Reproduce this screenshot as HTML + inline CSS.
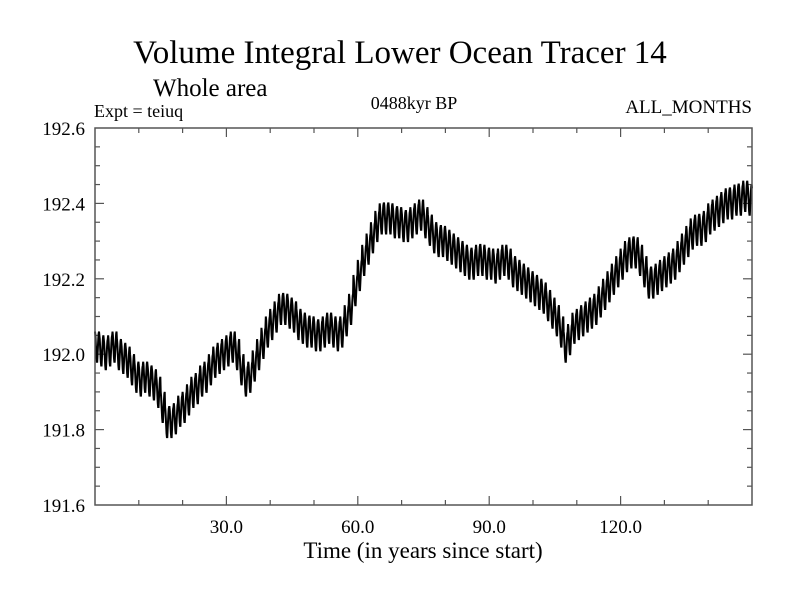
<!DOCTYPE html>
<html><head><meta charset="utf-8"><style>
body{margin:0;background:#fff}
svg{display:block}
text{font-family:"Liberation Serif",serif;fill:#000}
</style></head><body>
<svg id="chart" width="800" height="600">
<text x="400" y="63" font-size="33" text-anchor="middle">Volume Integral Lower Ocean Tracer 14</text>
<text x="153" y="96" font-size="25">Whole area</text>
<text x="94" y="117" font-size="18">Expt = teiuq</text>
<text x="414" y="109" font-size="18" text-anchor="middle">0488kyr BP</text>
<text x="752" y="113" font-size="19" text-anchor="end">ALL_MONTHS</text>
<text x="423" y="558" font-size="23" text-anchor="middle">Time (in years since start)</text>
<g id="axes"></g>
<path id="series" fill="none" stroke="#000" stroke-width="2"/>
<rect x="95" y="128" width="657" height="377" fill="none" stroke="#555" stroke-width="1.5"/>
</svg>
<script>
const annual=[192.02,192.01,192.0,192.01,192.02,192.0,191.99,191.98,191.96,191.94,
191.93,191.94,191.93,191.92,191.90,191.86,191.82,191.82,191.83,191.85,
191.86,191.88,191.90,191.91,191.93,191.94,191.96,191.98,191.99,192.0,
192.01,192.02,192.0,191.96,191.93,191.94,191.97,192.0,192.03,192.06,
192.08,192.1,192.12,192.12,192.11,192.1,192.08,192.07,192.06,192.06,
192.05,192.05,192.06,192.07,192.06,192.05,192.06,192.09,192.12,192.17,
192.21,192.25,192.28,192.31,192.34,192.36,192.36,192.36,192.35,192.35,
192.34,192.34,192.35,192.36,192.37,192.35,192.33,192.31,192.30,192.30,
192.29,192.28,192.27,192.26,192.25,192.24,192.24,192.25,192.25,192.24,
192.24,192.23,192.24,192.25,192.24,192.22,192.21,192.20,192.19,192.18,
192.17,192.16,192.15,192.13,192.11,192.09,192.06,192.02,192.04,192.07,
192.08,192.09,192.10,192.11,192.12,192.14,192.16,192.18,192.20,192.22,
192.24,192.26,192.27,192.27,192.25,192.22,192.19,192.19,192.20,192.21,
192.22,192.23,192.24,192.26,192.28,192.30,192.32,192.33,192.33,192.34,
192.36,192.37,192.38,192.39,192.40,192.40,192.41,192.41,192.42,192.41,192.40];
const seasonal=[0.04,0.03,0.01,-0.01,-0.03,-0.04,-0.04,-0.02,0,0.02,0.035,0.04];
const xTicks=[30,60,90,120];
const xTickLabels=["30.0","60.0","90.0","120.0"];
const yTicks=[191.6,191.8,192.0,192.2,192.4,192.6];
const yTickLabels=["191.6","191.8","192.0","192.2","192.4","192.6"];
const X0=95,X1=752,Y0=505,Y1=128,xMin=0,xMax=150,yMin=191.6,yMax=192.6;
const xs=v=>X0+(v-xMin)/(xMax-xMin)*(X1-X0);
const ys=v=>Y0-(v-yMin)/(yMax-yMin)*(Y0-Y1);
const NS="http://www.w3.org/2000/svg";
const g=document.getElementById('axes');
function line(x1,y1,x2,y2,name){const l=document.createElementNS(NS,'line');
l.setAttribute('x1',x1);l.setAttribute('y1',y1);l.setAttribute('x2',x2);l.setAttribute('y2',y2);
l.setAttribute('stroke','#555');l.setAttribute('stroke-width','1.2');


g.appendChild(l);}
function txt(x,y,s,anchor,name){const t=document.createElementNS(NS,'text');
t.setAttribute('x',x);t.setAttribute('y',y);t.setAttribute('font-size','19');t.setAttribute('text-anchor',anchor);
t.textContent=s;


g.appendChild(t);}
for(let v=10;v<150;v+=10){const x=xs(v);const major=v%30===0;const L=major?9:5;
line(x,Y0,x,Y0-L,'x-tick');line(x,Y1,x,Y1+L,'x-tick-top');}
xTicks.forEach((v,i)=>txt(xs(v),533,xTickLabels[i],'middle','x-tick-label'));
for(let k=1;k<20;k++){const v=yMin+k*0.05;const y=ys(v);const major=k%4===0;const L=major?9:5;
line(X0,y,X0+L,y,'y-tick');line(X1,y,X1-L,y,'y-tick-right');}
yTicks.forEach((v,i)=>txt(85,ys(v)+7,yTickLabels[i],'end','y-tick-label'));
let d='';
for(let y=0;y<annual.length;y++){for(let m=0;m<12;m++){const t=y+m/12;if(t>xMax)break;
d+=(d?'L':'M')+xs(t).toFixed(2)+','+ys(annual[y]+seasonal[m]).toFixed(2);}}
document.getElementById('series').setAttribute('d',d);
</script>
</body></html>
